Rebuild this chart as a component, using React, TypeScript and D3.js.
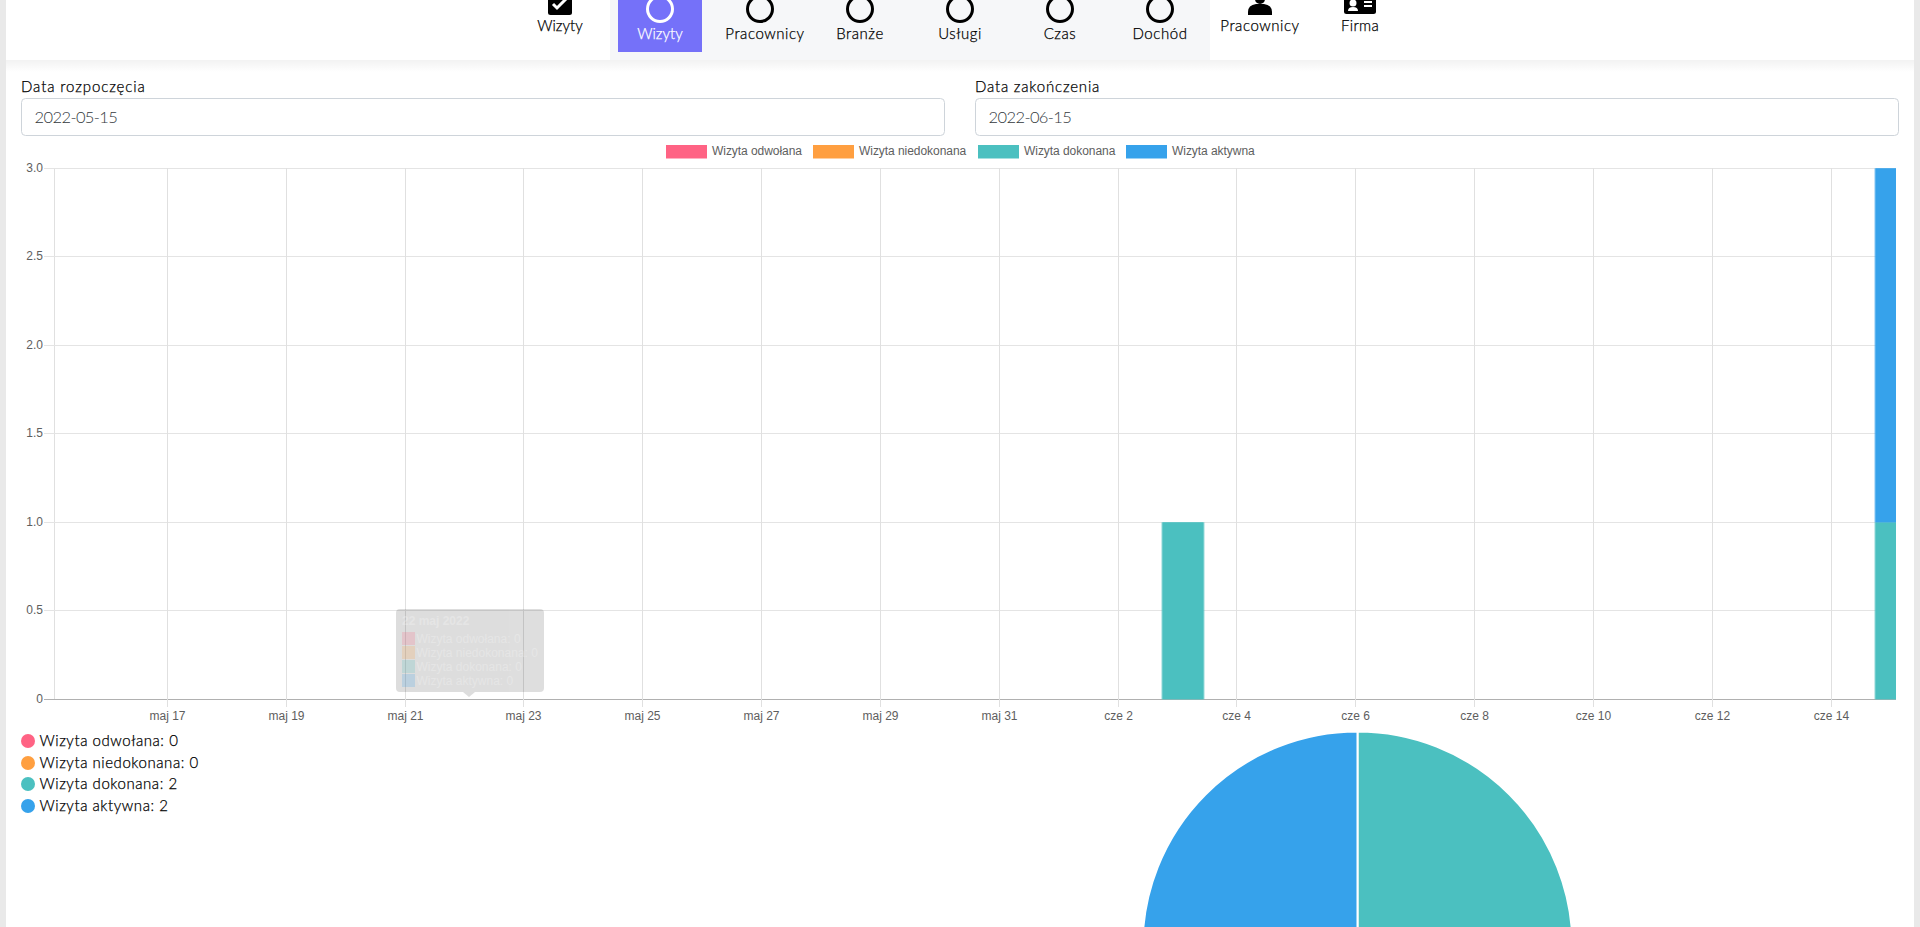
import React, { useEffect, useRef } from 'react'
import * as d3 from 'd3'

const days = [
  '2022-05-15', '2022-05-16', '2022-05-17', '2022-05-18', '2022-05-19', '2022-05-20', '2022-05-21', '2022-05-22',
  '2022-05-23', '2022-05-24', '2022-05-25', '2022-05-26', '2022-05-27', '2022-05-28', '2022-05-29', '2022-05-30',
  '2022-05-31', '2022-06-01', '2022-06-02', '2022-06-03', '2022-06-04', '2022-06-05', '2022-06-06', '2022-06-07',
  '2022-06-08', '2022-06-09', '2022-06-10', '2022-06-11', '2022-06-12', '2022-06-13', '2022-06-14', '2022-06-15',
]
const odwolana = [0, 0, 0, 0, 0, 0, 0, 0, 0, 0, 0, 0, 0, 0, 0, 0, 0, 0, 0, 0, 0, 0, 0, 0, 0, 0, 0, 0, 0, 0, 0, 0]
const niedokonana = [0, 0, 0, 0, 0, 0, 0, 0, 0, 0, 0, 0, 0, 0, 0, 0, 0, 0, 0, 0, 0, 0, 0, 0, 0, 0, 0, 0, 0, 0, 0, 0]
const dokonana = [0, 0, 0, 0, 0, 0, 0, 0, 0, 0, 0, 0, 0, 0, 0, 0, 0, 0, 0, 1, 0, 0, 0, 0, 0, 0, 0, 0, 0, 0, 0, 1]
const aktywna = [0, 0, 0, 0, 0, 0, 0, 0, 0, 0, 0, 0, 0, 0, 0, 0, 0, 0, 0, 0, 0, 0, 0, 0, 0, 0, 0, 0, 0, 0, 0, 2]

const seriesNames = ['Wizyta odwołana', 'Wizyta niedokonana', 'Wizyta dokonana', 'Wizyta aktywna']
const seriesColors = ['#ff6384', '#ff9f40', '#4bc0c0', '#36a2eb']
const seriesValues = [odwolana, niedokonana, dokonana, aktywna]

const tickDays = [
  '2022-05-17', '2022-05-19', '2022-05-21', '2022-05-23', '2022-05-25', '2022-05-27', '2022-05-29', '2022-05-31',
  '2022-06-02', '2022-06-04', '2022-06-06', '2022-06-08', '2022-06-10', '2022-06-12', '2022-06-14',
]
const tickLabels = [
  'maj 17', 'maj 19', 'maj 21', 'maj 23', 'maj 25', 'maj 27', 'maj 29', 'maj 31',
  'cze 2', 'cze 4', 'cze 6', 'cze 8', 'cze 10', 'cze 12', 'cze 14',
]
const yTicks = [0, 0.5, 1, 1.5, 2, 2.5, 3]

const navLeft = 'Wizyty'
const navSub = ['Wizyty', 'Pracownicy', 'Branże', 'Usługi', 'Czas', 'Dochód']
const tooltipTitle = '22 maj 2022'
const tooltipValues = [0, 0, 0, 0]

const uiFont = 'Lato, "Open Sans", sans-serif'
const chartFont = '"Liberation Sans", Arial, sans-serif'
const uiSpacing = 0.55
// light weight plus a hairline outline, the original font is thin but black
const ink = { fontFamily: uiFont, fontWeight: 300, fontSize: 15, fill: '#000', stroke: '#000', strokeWidth: 0.25 }

// bars sit 2h after the ticks (local time vs UTC in the original)
const dayAt = (s: string, h = 0) => new Date(Date.parse(s + 'T00:00:00Z') + h * 3600000)

const x = d3.scaleUtc().domain([dayAt(days[0], 2), dayAt(days[days.length - 1], 2)]).range([54, 1896])
const y = d3.scaleLinear().domain([0, 3]).range([699.3, 168.3])
const barWidth = 43

const rows = days.map((d, i) => {
  const row: any = { day: d }
  seriesNames.forEach((n, k) => (row[n] = seriesValues[k][i]))
  return row
})
const stacked = d3.stack().keys(seriesNames)(rows)

const totals = seriesValues.map(v => d3.sum(v))
const pie = d3.pie<number>().sort(null)(totals)
const arc = d3.arc<any>().innerRadius(0).outerRadius(215)

const App: React.FC = () => {
  const xRef = useRef<SVGGElement>(null)
  const yRef = useRef<SVGGElement>(null)

  useEffect(() => {
    if (!xRef.current || !yRef.current) return
    const tickDates = tickDays.map(d => dayAt(d))
    const xAxis = d3.axisBottom(x)
      .tickValues(tickDates)
      .tickFormat((_, i) => tickLabels[i])
      .tickSize(9)
      .tickPadding(4)
    const xg = d3.select(xRef.current).call(xAxis as any)
    xg.select('.domain').remove()
    xg.selectAll('.tick line').attr('stroke', '#e0e0e0').attr('y1', -531).attr('y2', 8)
    xg.selectAll('.tick').attr('transform', (d: any) => `translate(${Math.round(x(d)) - 0.5},0)`)
    xg.selectAll('text').attr('fill', '#5e5e5e').style('font', `12px ${chartFont}`).attr('y', 12).attr('dy', '0.71em')

    const yAxis = d3.axisLeft(y)
      .tickValues(yTicks)
      .tickFormat(d => (+d === 0 ? '0' : d3.format('.1f')(+d)))
      .tickSize(10)
      .tickPadding(1)
    const yg = d3.select(yRef.current).call(yAxis as any)
    yg.select('.domain').remove()
    yg.selectAll('.tick').attr('transform', (d: any) => `translate(0,${Math.floor(y(d)) + 0.5})`)
    yg.selectAll('.tick line')
      .attr('stroke', (d: any) => (d === 0 ? '#b0b0b0' : '#e4e4e4'))
      .attr('x2', 1842)
      .attr('x1', -10)
    yg.selectAll('text').attr('fill', '#5e5e5e').style('font', `12px ${chartFont}`)
  }, [])

  return (
    <svg width={1920} height={927} style={{ position: 'absolute', left: 0, top: 0, background: '#fff' }}>
      <defs>
        <clipPath id="plot"><rect x={54} y={160} width={1842} height={540} /></clipPath>
        <linearGradient id="shade" x1="0" y1="0" x2="0" y2="1">
          <stop offset="0" stopColor="#000" stopOpacity={0.05} />
          <stop offset="1" stopColor="#000" stopOpacity={0} />
        </linearGradient>
      </defs>

      {/* header */}
      <rect x={610} y={0} width={600} height={60} fill="#f6f7f9" />
      <rect x={0} y={60} width={1920} height={12} fill="url(#shade)" />
      <rect x={618} y={0} width={84} height={52} fill="#7571f9" />

      <rect x={548} y={-10} width={24} height={25} rx={2.5} fill="#000" />
      <path d="M553 4 l4 4 l9 -9" fill="none" stroke="#fff" strokeWidth={3} />
      <text x={560} y={31} textAnchor="middle" {...ink}>{navLeft}</text>

      {navSub.map((n, i) => {
        const cx = 660 + i * 100
        const c = i === 0 ? '#fff' : '#000'
        return (
          <g key={n}>
            <circle cx={cx} cy={9} r={12.5} fill="none" stroke={c} strokeWidth={3} />
            {i === 0 ? (
              <text x={cx} y={39} textAnchor="middle" {...ink} fill="#fff" stroke="#fff">{n}</text>
            ) : (
              <text x={i === 1 ? cx + 5 : cx} y={39} textAnchor="middle" {...ink} letterSpacing={uiSpacing}>{n}</text>
            )}
          </g>
        )
      })}

      <circle cx={1260} cy={-1} r={5} fill="#000" />
      <path d="M1248 15 v-3 q0 -7 8 -8 h8 q8 1 8 8 v3 z" fill="#000" />
      <text x={1260} y={31} textAnchor="middle" {...ink} letterSpacing={uiSpacing}>Pracownicy</text>

      <rect x={1344} y={-10} width={32} height={24} rx={2.5} fill="#000" />
      <circle cx={1353} cy={3} r={3.5} fill="#fff" />
      <path d="M1348 11 q0 -4 5 -4 q5 0 5 4 z" fill="#fff" />
      <path d="M1364 2 h8 M1364 6 h8" stroke="#fff" strokeWidth={2} />
      <text x={1360} y={31} textAnchor="middle" {...ink} letterSpacing={0.3}>Firma</text>

      {/* date inputs */}
      <text x={21} y={92} {...ink} letterSpacing={0.9}>Data rozpoczęcia</text>
      <rect x={21.5} y={98.5} width={923} height={37} rx={4} fill="#fff" stroke="#ced4da" />
      <text x={34.5} y={123} fontFamily={uiFont} fontWeight={300} fontSize={16.5} letterSpacing={-0.6} fill="#33383d">{days[0]}</text>
      <text x={975} y={92} {...ink} letterSpacing={0.8}>Data zakończenia</text>
      <rect x={975.5} y={98.5} width={923} height={37} rx={4} fill="#fff" stroke="#ced4da" />
      <text x={988.5} y={123} fontFamily={uiFont} fontWeight={300} fontSize={16.5} letterSpacing={-0.6} fill="#33383d">{days[days.length - 1]}</text>

      {/* chart legend */}
      {seriesNames.map((n, i) => {
        const lx = [666, 813, 978, 1126][i]
        return (
          <g key={n}>
            <rect x={lx} y={145} width={41} height={14} fill={seriesColors[i]} />
            <rect x={lx} y={158} width={41} height={1} fill="#fff" opacity={0.5} />
            <text x={lx + 46} y={155} fontFamily={chartFont} fontSize={12} letterSpacing={-0.05} fill="#5e5e5e">{n}</text>
          </g>
        )
      })}

      {/* stacked bars */}
      <line x1={54.5} x2={54.5} y1={168} y2={699} stroke="#e0e0e0" />
      <g ref={yRef} transform="translate(54,0)" />
      <g ref={xRef} transform="translate(0,699)" />
      <g clipPath="url(#plot)">
        {stacked.map((s, k) => s.map((d, i) => d[1] > d[0] && (
          <g key={`${k}-${i}`} fill={seriesColors[k]}>
            <rect
              x={x(dayAt(days[i], 2)) - barWidth / 2}
              y={y(d[1])}
              width={barWidth}
              height={y(d[0]) - y(d[1])}
              opacity={0.6}
            />
            <rect
              x={x(dayAt(days[i], 2)) - barWidth / 2 + 1}
              y={y(d[1])}
              width={barWidth - 2}
              height={y(d[0]) - y(d[1])}
            />
          </g>
        )))}
      </g>

      {/* faded tooltip */}
      <g opacity={0.13}>
        <rect x={396} y={609} width={148} height={83} rx={4} fill="#000" />
        <path d="M463 692 l6 5 l6 -5 z" fill="#000" />
      </g>
      <text x={402} y={625} fontFamily={chartFont} fontSize={12} fontWeight={700} fill="#fff" opacity={0.25}>{tooltipTitle}</text>
      {seriesNames.map((n, i) => (
        <g key={n}>
          <rect x={402} y={632 + i * 14} width={13} height={13} fill={seriesColors[i]} opacity={0.2} />
          <text x={416.5} y={643 + i * 14} fontFamily={chartFont} fontSize={12} fill="#fff" opacity={0.25}>{`${n}: ${tooltipValues[i]}`}</text>
        </g>
      ))}

      {/* pie legend */}
      {seriesNames.map((n, i) => {
        const ly = [741, 763, 784, 806][i]
        return (
          <g key={n}>
            <circle cx={28} cy={ly} r={7} fill={seriesColors[i]} />
            <text x={39.5} y={ly + 5} {...ink} letterSpacing={uiSpacing}>{`${n}: ${totals[i]}`}</text>
          </g>
        )
      })}

      {/* pie */}
      <g transform="translate(1357.5,946.5)">
        {pie.map((p, i) => p.endAngle > p.startAngle && (
          <path key={i} d={arc(p) as string} fill={seriesColors[i]} stroke="#fff" strokeWidth={2} />
        ))}
      </g>

      {/* page edges */}
      <rect x={0} y={0} width={6} height={927} fill="#e9e9e9" />
      <rect x={1914} y={0} width={6} height={927} fill="#e9e9e9" />
    </svg>
  )
}

export default App
